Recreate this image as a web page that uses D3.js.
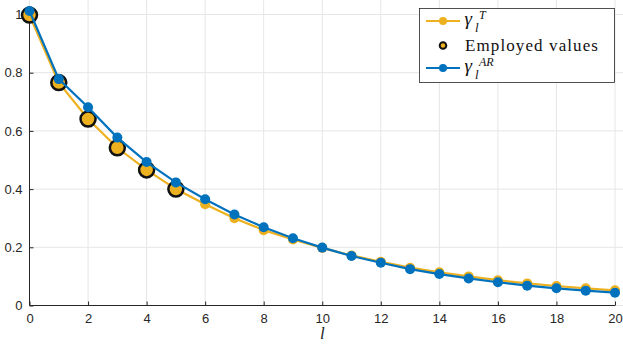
<!DOCTYPE html>
<html>
<head>
<meta charset="utf-8">
<script src="https://cdn.jsdelivr.net/npm/d3@7"></script>
<style>
  body { margin: 0; background: #fff; }
  svg { display: block; }
  .tick text { font-family: "Liberation Sans", Arial, sans-serif; font-size: 13px; fill: #262626; }
</style>
</head>
<body>
<svg id="chart" width="623" height="346"></svg>
<script>
// lag index
var lags = d3.range(0, 21);
// gamma_l^T (yellow)
var gammaT = [0.998, 0.766, 0.641, 0.542, 0.466, 0.400, 0.348, 0.300, 0.259, 0.227, 0.198,
              0.172, 0.150, 0.130, 0.114, 0.100, 0.087, 0.076, 0.067, 0.059, 0.052];
// gamma_l^AR (blue)
var gammaAR = [1.012, 0.778, 0.681, 0.577, 0.493, 0.423, 0.365, 0.313, 0.269, 0.231, 0.199,
               0.170, 0.147, 0.125, 0.108, 0.093, 0.080, 0.068, 0.059, 0.051, 0.044];
// lags whose values are employed
var employed = [0, 1, 2, 3, 4, 5];

var xTicks = d3.range(0, 21, 2);
var yTicks = [0, 0.2, 0.4, 0.6, 0.8, 1];

var yellow = "#EDB120", blue = "#0072BD";

var svg = d3.select("#chart");
var x = d3.scaleLinear().domain([0, 20]).range([29.5, 615]);
var y = d3.scaleLinear().domain([0, 1]).range([305.5, 14.5]);

// grid
var grid = svg.append("g").attr("stroke", "#e6e6e6").attr("stroke-width", 1);
grid.selectAll(".gx").data(xTicks).enter().append("line")
  .attr("x1", function(d) { return x(d); }).attr("x2", function(d) { return x(d); })
  .attr("y1", y(0)).attr("y2", 0);
grid.selectAll(".gy").data(yTicks).enter().append("line")
  .attr("x1", x(0)).attr("x2", 623)
  .attr("y1", function(d) { return y(d); }).attr("y2", function(d) { return y(d); });

// axes
var xAxis = d3.axisBottom(x).tickValues(xTicks).tickSize(-4).tickPadding(8).tickFormat(d3.format("d"));
var yAxis = d3.axisLeft(y).tickValues(yTicks).tickSize(-4).tickPadding(7)
  .tickFormat(function(d) { return d === 0 || d === 1 ? d3.format("d")(d) : d3.format(".1f")(d); });

var gx = svg.append("g").attr("transform", "translate(0," + y(0) + ")").call(xAxis);
var gy = svg.append("g").attr("transform", "translate(" + x(0) + ",0)").call(yAxis);
[gx, gy].forEach(function(g) {
  g.select(".domain").attr("stroke", "#262626");
  g.selectAll(".tick line").attr("stroke", "#262626");
});
gx.select(".domain").attr("d", "M" + x(0) + ",0H" + x(20));
gy.select(".domain").attr("d", "M0," + y(0) + "V" + y(1));

svg.append("text").attr("x", x(10)).attr("y", 339)
  .attr("text-anchor", "middle")
  .attr("font-family", "Liberation Serif, serif").attr("font-style", "italic").attr("font-size", 17)
  .attr("fill", "#262626").text("l");

// series
var line = d3.line().x(function(d, i) { return x(lags[i]); }).y(function(d) { return y(d); });

svg.append("path").datum(gammaT).attr("d", line)
  .attr("fill", "none").attr("stroke", yellow).attr("stroke-width", 2.2);
svg.append("g").selectAll("circle").data(gammaT).enter().append("circle")
  .attr("cx", function(d, i) { return x(lags[i]); }).attr("cy", function(d) { return y(d); })
  .attr("r", 5).attr("fill", yellow);

svg.append("g").selectAll("circle").data(employed).enter().append("circle")
  .attr("cx", function(d) { return x(lags[d]); }).attr("cy", function(d) { return y(gammaT[d]); })
  .attr("r", 7.5).attr("fill", yellow).attr("stroke", "#111").attr("stroke-width", 2.5);

svg.append("path").datum(gammaAR).attr("d", line)
  .attr("fill", "none").attr("stroke", blue).attr("stroke-width", 2.2);
svg.append("g").selectAll("circle").data(gammaAR).enter().append("circle")
  .attr("cx", function(d, i) { return x(lags[i]); }).attr("cy", function(d) { return y(d); })
  .attr("r", 5).attr("fill", blue);

// legend
var lg = svg.append("g").attr("transform", "translate(419.5,8.5)");
lg.append("rect").attr("width", 195).attr("height", 74)
  .attr("fill", "#fff").attr("stroke", "#262626").attr("stroke-width", 0.8);

function legendEntry(cy, color, withLine) {
  if (withLine) {
    lg.append("line").attr("x1", 6.5).attr("x2", 40.5).attr("y1", cy).attr("y2", cy)
      .attr("stroke", color).attr("stroke-width", 2.2);
    lg.append("circle").attr("cx", 23.5).attr("cy", cy).attr("r", 4).attr("fill", color);
  } else {
    lg.append("circle").attr("cx", 23.5).attr("cy", cy).attr("r", 3.3)
      .attr("fill", color).attr("stroke", "#111").attr("stroke-width", 2);
  }
}
legendEntry(12.5, yellow, true);
legendEntry(37, yellow, false);
legendEntry(59.5, blue, true);

// gamma with sub/superscript
function gammaLabel(cy, sup) {
  var t = lg.append("text")
    .attr("font-family", "Liberation Serif, serif").attr("font-style", "italic").attr("fill", "#111");
  t.append("tspan").attr("x", 45).attr("y", cy + 4).attr("font-size", 19).text("γ");
  t.append("tspan").attr("x", 55.5).attr("y", cy + 10.5).attr("font-size", 13).text("l");
  t.append("tspan").attr("x", 59.5).attr("y", cy - 2.5).attr("font-size", 12).text(sup);
}
gammaLabel(12.5, "T");
lg.append("text").attr("x", 45.5).attr("y", 42)
  .attr("font-family", "Liberation Serif, serif").attr("font-size", 17).attr("letter-spacing", 1.1)
  .attr("fill", "#111")
  .text("Employed values");
gammaLabel(59.5, "AR");
</script>
</body>
</html>
